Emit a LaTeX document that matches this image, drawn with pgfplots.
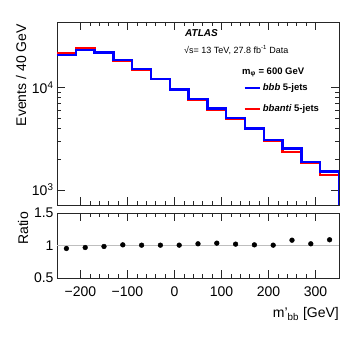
\documentclass[border=0pt]{standalone}
\usepackage{fontspec}
\setmainfont{Liberation Sans}
\usepackage{pgfplots}
\usepackage{pgfplotstable}
\pgfplotsset{compat=1.18}

% bin left edge, content (last rows close the last bin)
\pgfplotstableread{
x y
-250 20900
-210 23400
-170 22200
-130 18700
-90 15150
-50 12170
-10 9640
30 7800
70 6280
110 5050
150 4000
190 3070
230 2550
270 1870
310 1520
350 1520
350 100
}\bbb
\pgfplotstableread{
x y
-250 21900
-210 24150
-170 22540
-130 18510
-90 15080
-50 12110
-10 9590
30 7600
70 6060
110 4950
150 3960
190 3055
230 2357
270 1823
310 1397
350 1397
350 100
}\bbanti
\pgfplotstableread{
x r
-230 0.954
-190 0.969
-150 0.985
-110 1.010
-70 1.005
-30 1.005
10 1.005
50 1.026
90 1.036
130 1.021
170 1.010
210 1.005
250 1.082
290 1.026
330 1.088
}\ratio

\pgfplotsset{
  atlas/.style={
    scale only axis, width=282pt,
    xmin=-250, xmax=350,
    tick align=inside, xtick pos=both, ytick pos=both,
    major tick length=8pt, minor tick length=4pt,
    axis line style={line width=0.8pt, black!85},
    every tick/.style={line width=0.7pt, black!85},
    xtick={-200,-100,0,100,200,300}, minor x tick num=4,
    tick label style={font=\fontsize{14}{16}\selectfont},
    /pgf/number format/assume math mode=true,
  }
}

\begin{document}
\begin{tikzpicture}[x=1pt,y=1pt]
\useasboundingbox (0,0) rectangle (357,347);

\begin{axis}[atlas, at={(57pt,142pt)}, anchor=south west, height=183pt,
  ymode=log, ymin=713, ymax=44000,
  ytick={1000,10000}, yticklabels={10\textsuperscript{3},10\textsuperscript{4}},
  xticklabels={},
  legend cell align=left,
  legend style={draw=none, fill=none, inner sep=0pt, row sep=8.5pt,
    at={(rel axis cs:0.661,0.675)}, anchor=north west,
    font=\fontsize{9.5}{11}\selectfont\bfseries},
  legend image code/.code={\draw[#1] (0pt,0pt) -- (15pt,0pt);},
]
\addplot[red, line width=2.3pt, const plot, forget plot] table {\bbanti};
\addplot[blue, line width=2.3pt, const plot, forget plot] table {\bbb};
\addlegendimage{blue, line width=2.3pt}
\addlegendentry{\textit{bbb} 5-jets}
\addlegendimage{red, line width=2.3pt}
\addlegendentry{\textit{bbanti} 5-jets}
\end{axis}

\begin{axis}[atlas, at={(57pt,69pt)}, anchor=south west, height=65pt,
  ymin=0.5, ymax=1.5, ytick={0.5,1,1.5}, yticklabels={0.5,1,1.5},
  xticklabels={−200,−100,0,100,200,300},
  xticklabel style={yshift=-5pt},
]
\addplot[black!25, line width=0.5pt] coordinates {(-250,1) (350,1)};
\addplot[only marks, mark=*, mark size=2.4pt, black] table {\ratio};
\end{axis}

\node[anchor=base west, inner sep=0pt, font=\fontsize{10}{12}\selectfont\bfseries\itshape] at (185pt,310pt) {ATLAS};
\node[anchor=base west, inner sep=0pt, font=\fontsize{9}{11}\selectfont] at (184pt,293.5pt) {√s= 13 TeV, 27.8 fb\textsuperscript{-1} Data};
\node[anchor=base west, inner sep=0pt, font=\fontsize{9.5}{11}\selectfont\bfseries] at (242pt,272pt) {m\textsubscript{φ} = 600 GeV};

\node[rotate=90, anchor=base east, inner sep=0pt, font=\fontsize{14}{16}\selectfont] at (26pt,323pt) {Events / 40 GeV};
\node[rotate=90, anchor=base east, inner sep=0pt, font=\fontsize{14}{16}\selectfont] at (28pt,135pt) {Ratio};
\node[anchor=base east, inner sep=0pt, font=\fontsize{14}{16}\selectfont] at (339pt,29pt) {m'\textsubscript{bb} [GeV]};
\end{tikzpicture}
\end{document}
